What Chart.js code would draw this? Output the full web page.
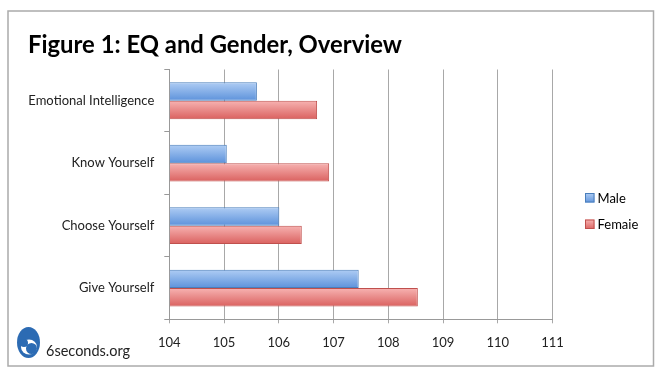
<!DOCTYPE html>
<html>
<head>
<meta charset="utf-8">
<script src="https://cdn.jsdelivr.net/npm/chart.js@4/dist/chart.umd.min.js"></script>
<style>
  html, body { margin: 0; padding: 0; background: #fff; }
  canvas { display: block; }
</style>
</head>
<body>
<canvas id="c" width="663" height="379"></canvas>
<script>
// ---- data ----
const categories = ['Emotional Intelligence', 'Know Yourself', 'Choose Yourself', 'Give Yourself'];
const seriesNames = ['Male', 'Femaie'];
const maleValues = [105.60, 105.05, 106.01, 107.46];
const femaleValues = [106.70, 106.92, 106.42, 108.54];
const xTickMin = 104;
const xTickMax = 111;
const titleText = 'Figure 1: EQ and Gender, Overview';
const logoText = '6seconds.org';

const FONT = 'Lato, "Liberation Sans", sans-serif';
const CAT_PCT = 0.59;

const blueStops = ['#afcdf4', '#5d92db'];
const redStops = ['#f7b3b2', '#da615f'];

function barGradient(c, stops) {
  const chart = c.chart;
  const area = chart.chartArea;
  const ys = chart.scales && chart.scales.y;
  if (!area || !ys || c.type !== 'data') return stops[1];
  const band = (area.bottom - area.top) / categories.length;
  const center = ys.getPixelForValue(c.dataIndex);
  const total = band * CAT_PCT;
  const top = center - total / 2 + c.datasetIndex * total / 2;
  const g = chart.ctx.createLinearGradient(0, top, 0, top + total / 2);
  g.addColorStop(0, stops[0]);
  g.addColorStop(1, stops[1]);
  return g;
}

const decor = {
  id: 'decor',
  beforeDraw(chart) {
    const ctx = chart.ctx;
    ctx.save();
    ctx.fillStyle = '#ffffff';
    ctx.fillRect(0, 0, chart.width, chart.height);
    ctx.strokeStyle = '#ababab';
    ctx.lineWidth = 1.5;
    ctx.strokeRect(8, 11, 645.5, 355);
    ctx.restore();
  },
  afterDraw(chart) {
    const ctx = chart.ctx;
    ctx.save();
    // title
    ctx.fillStyle = '#000';
    ctx.font = 'bold 24px ' + FONT;
    ctx.textBaseline = 'alphabetic';
    ctx.textAlign = 'left';
    ctx.fillText(titleText, 28, 53, 374);

    // legend
    const items = [
      { name: seriesNames[0], stops: blueStops, border: '#4a7ebb', y: 193 },
      { name: seriesNames[1], stops: redStops, border: '#c0504d', y: 219.5 }
    ];
    ctx.font = '13px ' + FONT;
    items.forEach(it => {
      const g = ctx.createLinearGradient(0, it.y, 0, it.y + 10);
      g.addColorStop(0, it.stops[0]);
      g.addColorStop(1, it.stops[1]);
      ctx.fillStyle = g;
      ctx.fillRect(585, it.y, 9.5, 9.5);
      ctx.strokeStyle = it.border;
      ctx.lineWidth = 1;
      ctx.strokeRect(585.5, it.y + 0.5, 8.5, 8.5);
      ctx.fillStyle = '#000';
      ctx.fillText(it.name, 597.5, it.y + 9.5);
    });

    // logo
    ctx.fillStyle = '#2c6bb3';
    ctx.beginPath();
    ctx.ellipse(28.5, 342.5, 11.5, 15.5, 0, 0, Math.PI * 2);
    ctx.fill();
    ctx.fillStyle = '#ffffff';
    ctx.beginPath();
    ctx.ellipse(29, 347, 8, 7.5, 0, 0, Math.PI * 2);
    ctx.fill();
    ctx.fillStyle = '#2c6bb3';
    ctx.beginPath();
    ctx.ellipse(31.5, 348.5, 5.5, 5.5, 0, 0, Math.PI * 2);
    ctx.fill();
    ctx.beginPath();
    ctx.ellipse(24, 343, 4, 4, 0, 0, Math.PI * 2);
    ctx.fill();

    ctx.fillStyle = '#222';
    ctx.font = '14.5px ' + FONT;
    ctx.fillText(logoText, 46, 355.5);
    ctx.restore();
  }
};

new Chart(document.getElementById('c'), {
  type: 'bar',
  data: {
    labels: categories,
    datasets: [
      {
        label: seriesNames[0],
        data: maleValues,
        base: xTickMin,
        backgroundColor: c => barGradient(c, blueStops),
        borderColor: '#4a7ebb',
        borderWidth: 1,
        barPercentage: 1,
        categoryPercentage: CAT_PCT
      },
      {
        label: seriesNames[1],
        data: femaleValues,
        base: xTickMin,
        backgroundColor: c => barGradient(c, redStops),
        borderColor: '#c0504d',
        borderWidth: 1,
        barPercentage: 1,
        categoryPercentage: CAT_PCT
      }
    ]
  },
  options: {
    indexAxis: 'y',
    responsive: false,
    animation: false,
    layout: { padding: { left: 20, right: 110.5, top: 69.5, bottom: 29.7 } },
    plugins: {
      legend: { display: false },
      title: { display: false },
      tooltip: { enabled: false }
    },
    scales: {
      x: {
        type: 'linear',
        min: xTickMin,
        max: xTickMax,
        ticks: { stepSize: 1, color: '#222', font: { family: FONT, size: 13 }, padding: 12 },
        grid: { color: '#a8a8a8', lineWidth: 1, tickLength: 4 },
        border: { color: '#999999', width: 1 },
        afterFit(s) { s.height = 30; }
      },
      y: {
        type: 'category',
        ticks: { color: '#222', font: { family: FONT, size: 13 }, padding: 10 },
        grid: { offset: true, drawOnChartArea: false, drawTicks: true, tickLength: 5, color: '#999999' },
        border: { color: '#999999', width: 1 },
        afterFit(s) { s.width = 149.3; }
      }
    }
  },
  plugins: [decor]
});
</script>
</body>
</html>
